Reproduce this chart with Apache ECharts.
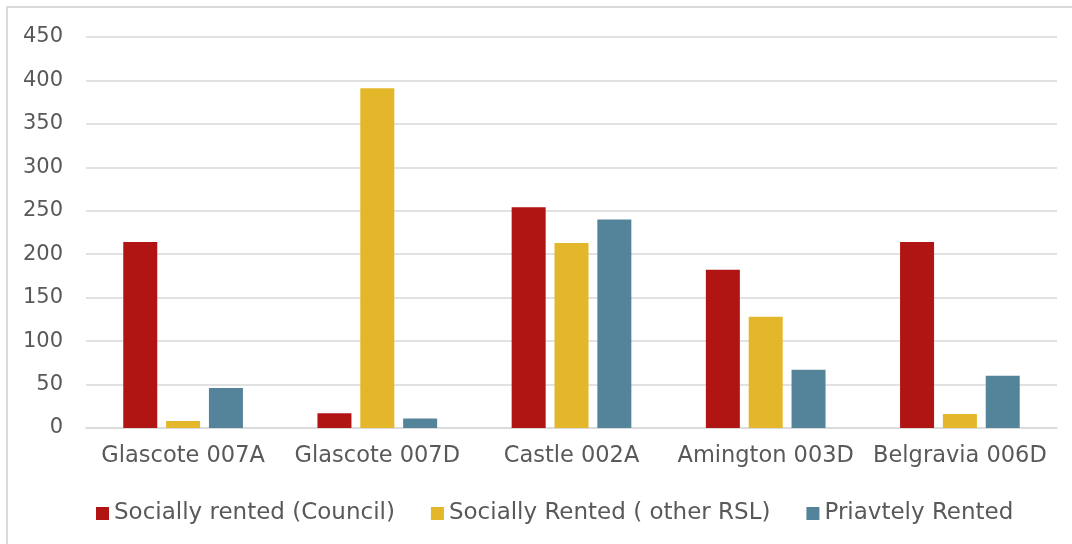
<!DOCTYPE html>
<html>
<head>
<meta charset="utf-8">
<script src="https://cdn.jsdelivr.net/npm/echarts@6/dist/echarts.min.js"></script>
<style>
  html, body { margin: 0; padding: 0; background: #fff; overflow: hidden; }
  #frame { position: absolute; left: 6px; top: 6px; width: 1100px; height: 600px; border: 2px solid #dadada; box-sizing: border-box; }
  #chart { position: absolute; left: 0; top: 0; width: 1072px; height: 544px; }
</style>
</head>
<body>
<div id="frame"></div>
<div id="chart"></div>
<script>
const categories = ['Glascote 007A', 'Glascote 007D', 'Castle 002A', 'Amington 003D', 'Belgravia 006D'];
const council = [214, 17, 254, 182, 214];
const otherRSL = [8, 391, 213, 128, 16];
const privatelyRented = [46, 11, 240, 67, 60];
const seriesNames = ['Socially rented (Council)', 'Socially Rented ( other RSL)', 'Priavtely Rented'];
const colors = ['#B01513', '#E3B729', '#54849A'];

const font = '"DejaVu Sans", sans-serif';
const textColor = '#595959';

const chart = echarts.init(document.getElementById('chart'), null, { renderer: 'canvas' });
const values = [council, otherRSL, privatelyRented];

chart.setOption({
  animation: false,
  color: colors,
  grid: { left: 86, right: 15, top: 37, bottom: 116, containLabel: false },
  legend: {
    top: 497,
    left: 91,
    itemWidth: 13,
    itemHeight: 13,
    itemGap: 36,
    icon: 'rect',
    textStyle: { fontFamily: font, fontSize: 23, color: textColor },
    data: seriesNames
  },
  xAxis: {
    type: 'category',
    data: categories,
    axisLine: { lineStyle: { color: '#d9d9d9', width: 1.5 } },
    axisTick: { show: false },
    axisLabel: { interval: 0, fontFamily: font, fontSize: 22.5, color: textColor, margin: 17 }
  },
  yAxis: {
    type: 'value',
    min: 0,
    max: 450,
    interval: 50,
    axisLine: { show: false },
    axisTick: { show: false },
    splitLine: { lineStyle: { color: '#d9d9d9', width: 1.5 } },
    axisLabel: { fontFamily: font, fontSize: 21, color: textColor, margin: 23 }
  },
  series: seriesNames.map((name, i) => ({
    name: name,
    type: 'bar',
    data: values[i],
    barWidth: 34,
    barGap: '26%',
    itemStyle: { color: colors[i] }
  }))
});
</script>
</body>
</html>
